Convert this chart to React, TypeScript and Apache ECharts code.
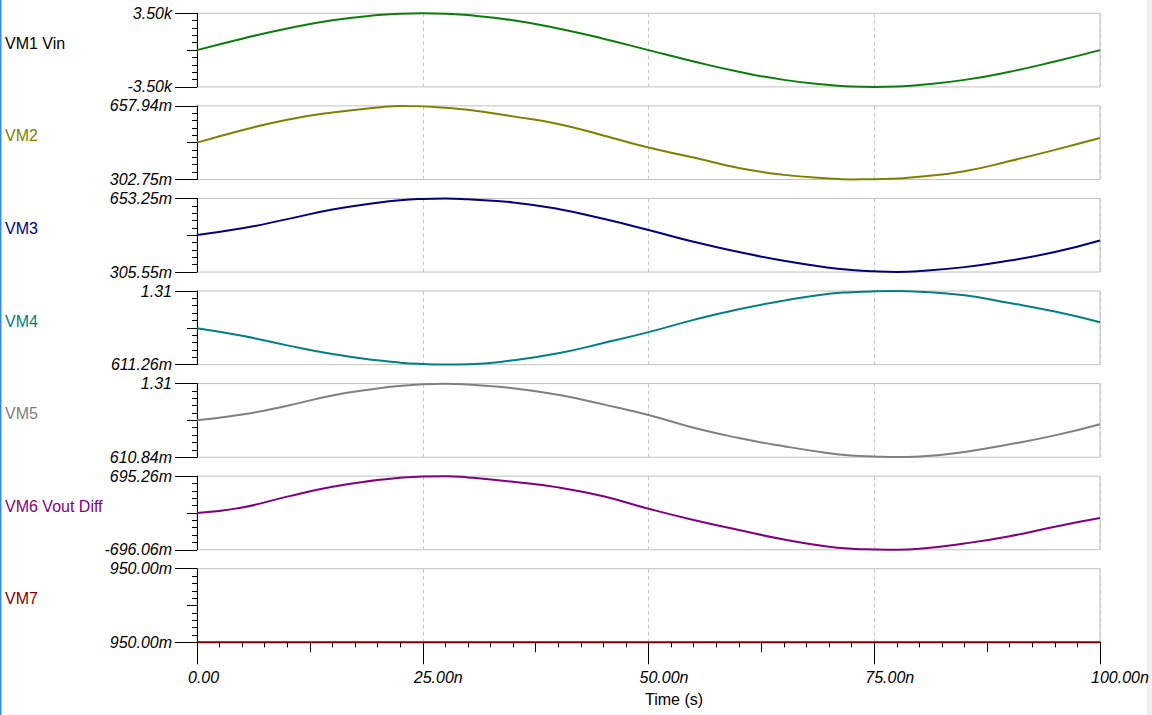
import React, { useEffect, useRef } from 'react';
import * as echarts from 'echarts';

const times = [0, 5, 10, 15, 20, 22.5, 25, 27.5, 30, 35, 40, 45, 50, 55, 60, 65, 70, 72.5, 75, 77.5, 80, 85, 90, 95, 100];

const seriesNames = ['VM1 Vin', 'VM2', 'VM3', 'VM4', 'VM5', 'VM6 Vout Diff', 'VM7'];
const lineColors = ['#0a7d0a', '#808000', '#000080', '#008080', '#808080', '#800080', '#800000'];
const labelColors = ['#000000', '#808000', '#000080', '#008080', '#808080', '#800080', '#800000'];

const vm1 = [0, 1082, 2057, 2832, 3329, 3457, 3500, 3457, 3329, 2832, 2057, 1082, 0, -1082, -2057, -2832, -3329, -3457, -3500, -3457, -3329, -2832, -2057, -1082, 0];
const vm2 = [0.4804, 0.5406, 0.5913, 0.6262, 0.6500, 0.6575, 0.6555, 0.6490, 0.6389, 0.6072, 0.5707, 0.5152, 0.4566, 0.4089, 0.3582, 0.3249, 0.3075, 0.3032, 0.3035, 0.3075, 0.3155, 0.3425, 0.3915, 0.4455, 0.5025];
const vm3 = [0.4810, 0.5120, 0.5555, 0.6005, 0.6331, 0.6450, 0.6510, 0.6530, 0.6490, 0.6346, 0.6036, 0.5570, 0.5042, 0.4484, 0.4002, 0.3584, 0.3257, 0.3150, 0.3087, 0.3060, 0.3100, 0.3288, 0.3599, 0.4002, 0.4546];
const vm4 = [0.9575, 0.8850, 0.7938, 0.7120, 0.6522, 0.6300, 0.6176, 0.6120, 0.6144, 0.6522, 0.7183, 0.8159, 0.9197, 1.0362, 1.1369, 1.2187, 1.2848, 1.2990, 1.3069, 1.3095, 1.3037, 1.2691, 1.1967, 1.1148, 1.0141];
const vm5 = [0.9620, 1.0153, 1.0999, 1.1972, 1.2630, 1.2880, 1.3037, 1.3090, 1.3006, 1.2661, 1.2034, 1.1125, 1.0122, 0.8899, 0.7926, 0.7143, 0.6486, 0.6270, 0.6171, 0.6115, 0.6171, 0.6610, 0.7332, 0.8178, 0.9243];
const vm6 = [-0.0035, 0.1025, 0.3084, 0.4956, 0.6204, 0.6650, 0.6890, 0.6950, 0.6703, 0.5892, 0.4831, 0.3150, 0.0800, -0.1345, -0.3218, -0.5026, -0.6399, -0.6750, -0.6898, -0.6955, -0.6773, -0.5775, -0.4403, -0.2593, -0.0971];
const vm7 = [0.95, 0.95, 0.95, 0.95, 0.95, 0.95, 0.95, 0.95, 0.95, 0.95, 0.95, 0.95, 0.95, 0.95, 0.95, 0.95, 0.95, 0.95, 0.95, 0.95, 0.95, 0.95, 0.95, 0.95, 0.95];
const allValues = [vm1, vm2, vm3, vm4, vm5, vm6, vm7];

const yMins = [-3500, 0.30275, 0.30555, 0.61126, 0.61084, -0.69606, 0.95];
const yMaxs = [3500, 0.65794, 0.65325, 1.31, 1.31, 0.69526, 0.95];
const yMinLabels = ['-3.50k', '302.75m', '305.55m', '611.26m', '610.84m', '-696.06m', '950.00m'];
const yMaxLabels = ['3.50k', '657.94m', '653.25m', '1.31', '1.31', '695.26m', '950.00m'];

const xTickLabels = ['0.00', '25.00n', '50.00n', '75.00n', '100.00n'];
const xTitle = 'Time (s)';

const FONT = '"Liberation Sans", Arial, sans-serif';

export default function App() {
  const ref = useRef<HTMLDivElement>(null);
  useEffect(() => {
    if (!ref.current) return;
    const chart = echarts.init(ref.current, undefined, { renderer: 'svg' });
    const gridLeft = 197;
    const gridWidth = 903;
    const firstTop = 13.3;
    const step = 92.57;
    const gridH = 73.6;
    const tops = seriesNames.map((_, i) => firstTop + i * step);

    const grids = tops.map((t) => ({
      left: gridLeft,
      width: gridWidth,
      top: t,
      height: gridH,
      show: true,
      borderColor: '#c0c0c0',
      borderWidth: 1,
      backgroundColor: 'transparent',
    }));

    const splitLine = { show: true, lineStyle: { color: '#c8c8c8', width: 1, type: [4, 3] } };
    const xAxes: any[] = [];
    tops.forEach((_, i) => {
      xAxes.push({
        gridIndex: i,
        type: 'value',
        position: 'bottom',
        min: 0,
        max: 100,
        interval: 25,
        axisLine: { show: i === 6, onZero: false, lineStyle: { color: '#000', width: 1 } },
        axisTick: { show: i === 6, length: 22, lineStyle: { color: '#000', width: 1 } },
        axisLabel: {
          show: i === 6,
          formatter: (v: number) => xTickLabels[Math.round(v / 25)],
          align: 'left',
          padding: [0, 0, 0, -9],
          margin: 27,
          fontSize: 16,
          fontStyle: 'italic',
          color: '#000',
          fontFamily: FONT,
        },
        splitLine,
      });
    });
    [
      { interval: 12.5, length: 10 },
      { interval: 2.5, length: 5 },
    ].forEach((o) => {
      xAxes.push({
        gridIndex: 6,
        type: 'value',
        position: 'bottom',
        min: 0,
        max: 100,
        interval: o.interval,
        axisLine: { show: false, onZero: false },
        axisTick: { show: true, length: o.length, lineStyle: { color: '#000', width: 1 } },
        axisLabel: { show: false },
        splitLine: { show: false },
      });
    });

    const yAxes: any[] = [];
    seriesNames.forEach((_, i) => {
      const min = yMins[i];
      const max = yMaxs[i] === yMins[i] ? yMins[i] + 0.001 : yMaxs[i];
      const span = max - min;
      const minor = [1, 2, 3, 4, 6, 7, 8, 9].map((k) => min + (span * k) / 10);
      yAxes.push({
        gridIndex: i,
        type: 'value',
        position: 'left',
        offset: 0,
        min,
        max,
        axisLine: { show: true, onZero: false, lineStyle: { color: '#000', width: 1 } },
        axisTick: { show: true, customValues: [min, max], length: 22, lineStyle: { color: '#000', width: 1 } },
        axisLabel: {
          show: true,
          customValues: [min, max],
          formatter: (v: number) => (Math.abs(v - min) < Math.abs(v - max) ? yMinLabels[i] : yMaxLabels[i]),
          margin: 25,
          fontSize: 16,
          fontStyle: 'italic',
          color: '#000',
          fontFamily: FONT,
        },
        splitLine: { show: false },
      });
      yAxes.push({
        gridIndex: i,
        type: 'value',
        position: 'left',
        offset: 0,
        min,
        max,
        axisLine: { show: false, onZero: false },
        axisTick: { show: true, customValues: [min + span / 2], length: 10, lineStyle: { color: '#000', width: 1 } },
        axisLabel: { show: false },
        splitLine: { show: false },
      });
      yAxes.push({
        gridIndex: i,
        type: 'value',
        position: 'left',
        offset: 0,
        min,
        max,
        axisLine: { show: false, onZero: false },
        axisTick: { show: true, customValues: minor, length: 5, lineStyle: { color: '#000', width: 1 } },
        axisLabel: { show: false },
        splitLine: { show: false },
      });
    });

    const series = seriesNames.map((name, i) => ({
      name,
      type: 'line',
      xAxisIndex: i,
      yAxisIndex: i * 3,
      data: times.map((t, k) => [t, allValues[i][k]]),
      showSymbol: false,
      smooth: 0.5,
      clip: false,
      lineStyle: { color: lineColors[i], width: 2 },
      itemStyle: { color: lineColors[i] },
      silent: true,
      z: 3,
    }));

    const graphics: any[] = seriesNames.map((name, i) => ({
      type: 'text',
      left: 5,
      top: tops[i] + 31 - 9,
      style: { text: name, fill: labelColors[i], fontSize: 16, fontFamily: FONT },
    }));
    graphics.push({
      type: 'text',
      left: 645,
      top: 691,
      style: { text: xTitle, fill: '#000', fontSize: 16, fontFamily: FONT },
    });
    graphics.push({ type: 'rect', shape: { x: 0, y: 0, width: 1.5, height: 715 }, style: { fill: '#3d8bd8' } });
    graphics.push({ type: 'rect', shape: { x: 1147, y: 0, width: 5, height: 715 }, style: { fill: '#f0f0f0' } });

    chart.setOption({
      animation: false,
      backgroundColor: '#ffffff',
      grid: grids,
      xAxis: xAxes,
      yAxis: yAxes,
      series,
      graphic: graphics,
    });
    return () => chart.dispose();
  }, []);
  return <div ref={ref} style={{ position: 'absolute', left: 0, top: 0, width: 1152, height: 715 }} />;
}
